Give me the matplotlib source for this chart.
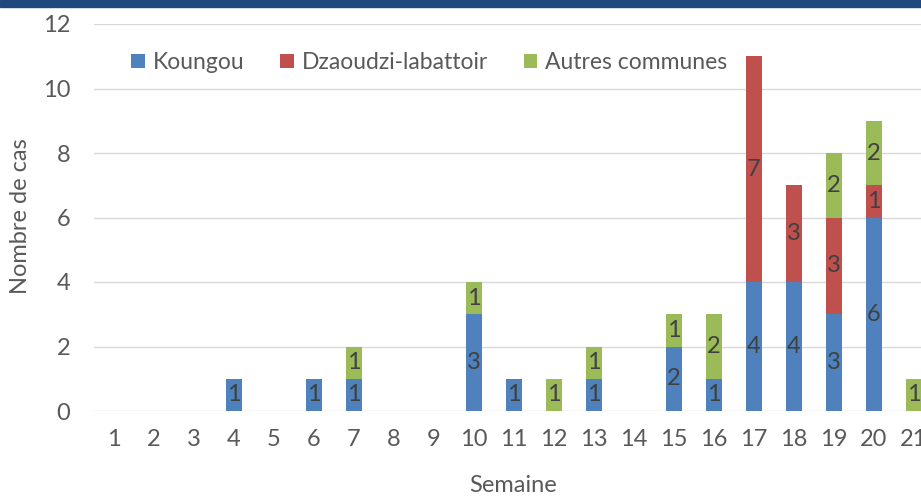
import matplotlib.pyplot as plt
import numpy as np

weeks = list(range(1, 22))
koungou = [0, 0, 0, 1, 0, 1, 1, 0, 0, 3, 1, 0, 1, 0, 2, 1, 4, 4, 3, 6, 0]
dzaoudzi = [0, 0, 0, 0, 0, 0, 0, 0, 0, 0, 0, 0, 0, 0, 0, 0, 7, 3, 3, 1, 0]
autres = [0, 0, 0, 0, 0, 0, 1, 0, 0, 1, 0, 1, 1, 0, 1, 2, 0, 0, 2, 2, 1]

series = [("Koungou", koungou, "#4F81BD"),
          ("Dzaoudzi-labattoir", dzaoudzi, "#C0504D"),
          ("Autres communes", autres, "#9BBB59")]

plt.rcParams['font.family'] = ['Lato', 'DejaVu Sans']

W, H = 921, 497
fig = plt.figure(figsize=(W / 100, H / 100), dpi=100)
# dark band at the top
fig.patches.append(plt.Rectangle((0, 1 - 7 / H), 1, 7 / H, transform=fig.transFigure,
                                 color="#1F497D", zorder=0))

ax = fig.add_axes([94 / W, (H - 411) / H, 840 / W, 387 / H])

x = np.arange(len(weeks))
bottom = np.zeros(len(weeks))
for name, vals, col in series:
    vals = np.array(vals, dtype=float)
    ax.bar(x, vals, 0.39, bottom=bottom, color=col, label=name, zorder=3)
    for xi, b, v in zip(x, bottom, vals):
        if v > 0:
            ax.text(xi, b + v / 2, str(int(v)), ha="center", va="center",
                    fontsize=17, color="#404040", zorder=4)
    bottom += vals

ax.set_xlim(-0.5, len(weeks) - 0.5)
ax.set_ylim(0, 12)
ax.set_yticks(range(0, 13, 2))
ax.set_xticks(x)
ax.set_xticklabels([str(w) for w in weeks])
ax.grid(axis="y", color="#D9D9D9", linewidth=1, zorder=0)
for s in ax.spines.values():
    s.set_visible(False)
ax.tick_params(length=0, labelsize=17, colors="#595959")
ax.tick_params(axis="y", pad=17)
ax.tick_params(axis="x", pad=13)

ax.set_xlabel("Semaine", fontsize=17, color="#595959")
ax.set_ylabel("Nombre de cas", fontsize=17, color="#595959")
ax.xaxis.set_label_coords((513 - 94) / 840, -(475 - 411) / 387)
ax.yaxis.set_label_coords(-(94 - 31) / 840, (411 - 216) / 387)

ax.legend(loc="upper left", bbox_to_anchor=(28 / 840, 1 - 19 / 387), ncol=3,
          frameon=False, fontsize=16.5, labelcolor="#595959", handlelength=0.6,
          handleheight=0.6, handletextpad=0.35, columnspacing=1.55, borderaxespad=0)

fig.savefig("out.png", dpi=100)
